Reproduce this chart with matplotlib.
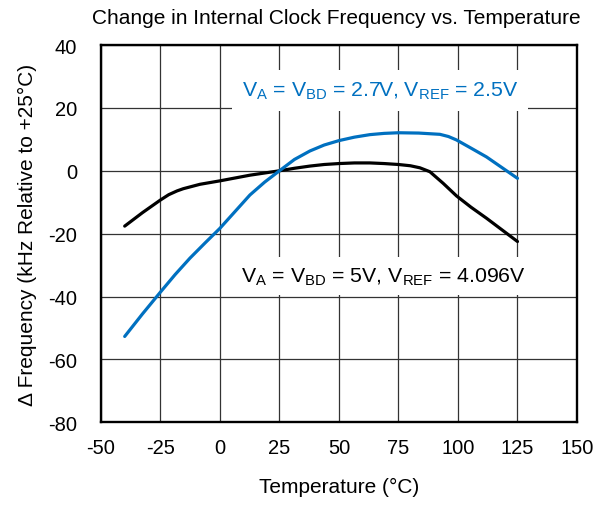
import matplotlib
matplotlib.use("Agg")
import matplotlib.pyplot as plt

plt.rcParams['font.family'] = ['Liberation Sans', 'DejaVu Sans']
plt.rcParams['mathtext.fontset'] = 'custom'
plt.rcParams['mathtext.rm'] = 'Liberation Sans'
plt.rcParams['mathtext.it'] = 'Liberation Sans'
plt.rcParams['axes.unicode_minus'] = False

temp_blue = [-40, -32.5, -25, -18.8, -12.6, -6.3, 0, 6.3, 12.6, 18.8, 25, 31.3, 37.8, 43.8, 50, 56.5, 63, 69, 75, 83.5, 92.4, 96, 99.4, 105.5, 112, 118.5, 125]
freq_blue = [-52.7, -45.5, -38.6, -33.0, -27.8, -23.0, -18.3, -13.0, -7.7, -3.6, 0, 3.6, 6.3, 8.2, 9.6, 10.7, 11.5, 11.9, 12.1, 12.0, 11.6, 10.9, 9.8, 7.2, 4.4, 1.0, -2.4]

temp_black = [-40, -32.5, -25, -21.5, -18, -15.4, -8.4, 0, 6.3, 12.6, 18.8, 25, 31.3, 37.8, 43.8, 50, 56.5, 63, 69, 75, 80, 84, 88.2, 93.8, 99.4, 105.5, 112, 118.5, 125]
freq_black = [-17.6, -13.3, -9.3, -7.6, -6.4, -5.7, -4.3, -3.2, -2.3, -1.4, -0.7, 0, 0.8, 1.5, 2.0, 2.3, 2.5, 2.5, 2.3, 2.0, 1.6, 0.95, -0.3, -4.0, -8.0, -11.6, -15.1, -18.8, -22.5]

xticks = [-50, -25, 0, 25, 50, 75, 100, 125, 150]
yticks = [-80, -60, -40, -20, 0, 20, 40]

fig = plt.figure(figsize=(5.97, 5.06), dpi=100)
ax = fig.add_axes([0.169, 0.1635, 0.7975, 0.7455])

ax.plot(temp_black, freq_black, color='black', lw=2.3, solid_capstyle='round',
        solid_joinstyle='round', zorder=3)
ax.plot(temp_blue, freq_blue, color='#0070C0', lw=2.3, solid_capstyle='round',
        solid_joinstyle='round', zorder=4)

ax.set_xlim(-50, 150)
ax.set_ylim(-80, 40)
ax.set_xticks(xticks)
ax.set_yticks(yticks)
ax.tick_params(axis='x', length=0, labelsize=14.5, pad=11)
ax.tick_params(axis='y', length=0, labelsize=14.5, pad=17)
ax.grid(True, color='#333333', lw=0.9)
ax.set_axisbelow(True)
for s in ax.spines.values():
    s.set_linewidth(1.7)

ax.set_xlabel('Temperature (°C)', fontsize=15, labelpad=15)
ax.set_ylabel('Δ Frequency (kHz Relative to +25°C)', fontsize=15, labelpad=8)
fig.suptitle('Change in Internal Clock Frequency vs. Temperature', fontsize=15,
             x=0.564, y=0.982)

ax.text(67.2, 25.5, r'V$_\mathrm{A}$ = V$_\mathrm{BD}$ = 2.7V, V$_\mathrm{REF}$ = 2.5V',
        color='#0070C0', fontsize=15.3, ha='center', va='center', zorder=5,
        bbox=dict(facecolor='white', edgecolor='none', pad=7))
ax.text(68.5, -33.5, r'V$_\mathrm{A}$ = V$_\mathrm{BD}$ = 5V, V$_\mathrm{REF}$ = 4.096V',
        color='black', fontsize=15.3, ha='center', va='center', zorder=5,
        bbox=dict(facecolor='white', edgecolor='none', pad=6))

fig.savefig('out.png', dpi=100)
